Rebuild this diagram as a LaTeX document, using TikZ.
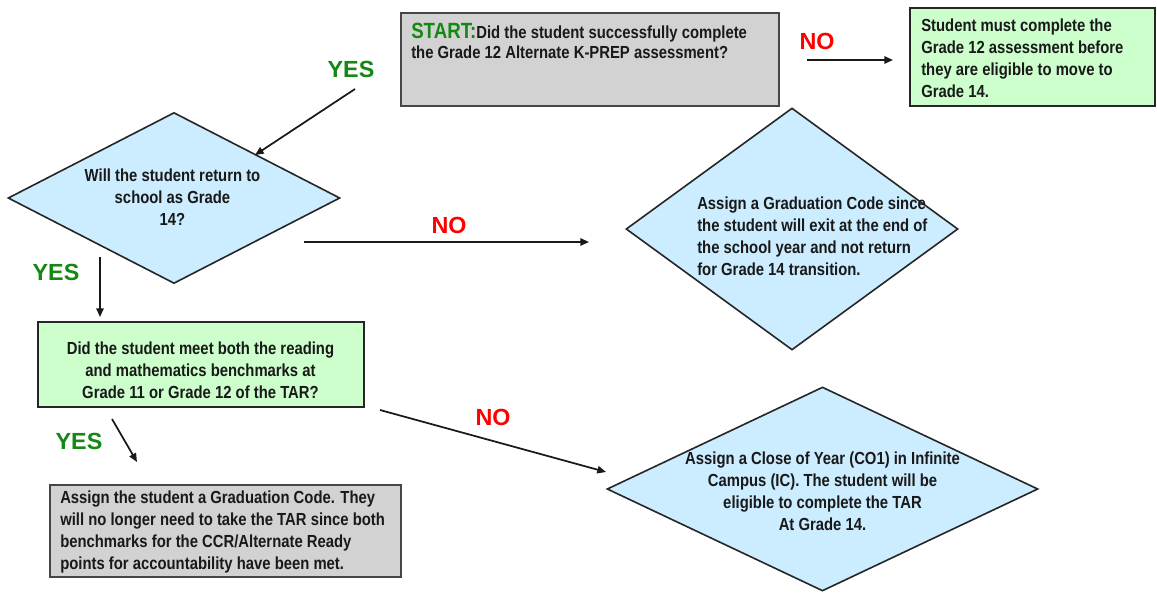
\documentclass[tikz,border=0pt]{standalone}
\usepackage{fontspec}
\setmainfont{Liberation Sans}
\newfontfamily\bnar{Liberation Sans}[FakeStretch=0.85]
\usetikzlibrary{shapes.geometric, arrows.meta}
\definecolor{diablue}{RGB}{204,236,255}
\definecolor{greenfill}{RGB}{204,255,204}
\definecolor{grayfill}{RGB}{210,210,210}
\definecolor{yesgreen}{RGB}{20,135,20}
\definecolor{nored}{RGB}{255,0,0}
\definecolor{bordergray}{RGB}{70,70,70}
\tikzset{
  dia/.style={diamond, draw=black!85, line width=1.2pt, fill=diablue, inner sep=0pt},
  greenbox/.style={rectangle, draw=black!85, line width=1.2pt, fill=greenfill, inner sep=0pt},
  graybox/.style={rectangle, draw=bordergray, line width=1.5pt, fill=grayfill, inner sep=0pt},
  txt/.style={font=\bnar\bfseries\fontsize{13.1pt}{16.5pt}\selectfont, inner sep=0pt, text=black!90},
  yeslbl/.style={font=\bfseries\fontsize{17.5pt}{20pt}\selectfont, text=yesgreen, inner sep=0pt},
  nolbl/.style={font=\bfseries\fontsize{17.5pt}{20pt}\selectfont, text=nored, inner sep=0pt},
  arr/.style={-{Triangle[length=6.5pt,width=5.5pt]}, line width=1.3pt, black!90}
}
\begin{document}
\begin{tikzpicture}[x=0.75pt, y=-0.75pt]
\fill[white] (0,0) rectangle (1157,593);
\useasboundingbox (0,0) rectangle (1157,593);

% shapes
\node[graybox, minimum width=283.5pt, minimum height=69.75pt] (start) at (590,59.5) {};
\node[greenbox, minimum width=183.75pt, minimum height=73.5pt] (must) at (1032.5,57) {};
\node[dia, minimum width=249pt, minimum height=128.25pt] (ret) at (174,198) {};
\node[dia, minimum width=249pt, minimum height=181.5pt] (grad) at (792,229) {};
\node[greenbox, minimum width=244.5pt, minimum height=63.75pt] (bench) at (201,364.5) {};
\node[graybox, minimum width=263.25pt, minimum height=69pt] (assign) at (225.5,531) {};
\node[dia, minimum width=323.25pt, minimum height=153pt] (close) at (822.5,489) {};

% texts
\node[txt, anchor=west, align=left] (startT) at (411,41)
  {{\fontsize{16.5pt}{17pt}\selectfont\color{yesgreen}START:}Did the student successfully complete\\[-1pt]the Grade 12 Alternate K-PREP assessment?};
\node[txt, anchor=west, align=left] (mustT) at (921,58.5)
  {Student must complete the\\Grade 12 assessment before\\they are eligible to move to\\Grade 14.};
\node[txt, align=center] (retT) at (172.5,197.5)
  {Will the student return to\\school as Grade\\14?};
\node[txt, anchor=west, align=left] (gradT) at (697,236.5)
  {Assign a Graduation Code since\\the student will exit at the end of\\the school year and not return\\for Grade 14 transition.};
\node[txt, align=center] (benchT) at (200.5,370)
  {Did the student meet both the reading\\and mathematics benchmarks at\\Grade 11 or Grade 12 of the TAR?};
\node[txt, anchor=west, align=left] (assignT) at (60,532)
  {Assign the student a Graduation Code. They\\will no longer need to take the TAR since both\\benchmarks for the CCR/Alternate Ready\\points for accountability have been met.};
\node[txt, align=center] (closeT) at (822.5,491.5)
  {Assign a Close of Year (CO1) in Infinite\\Campus (IC). The student will be\\eligible to complete the TAR\\At Grade 14.};

% labels
\node[yeslbl] (yes1) at (351,69) {YES};
\node[nolbl] (no1) at (817,41) {NO};
\node[nolbl] (no2) at (449,225) {NO};
\node[yeslbl] (yes2) at (56,272) {YES};
\node[yeslbl] (yes3) at (79,441) {YES};
\node[nolbl] (no3) at (493,417) {NO};

% connector ends
\coordinate (a1s) at (355,89);  \coordinate (a1e) at (255,155);
\coordinate (a2s) at (807,60);  \coordinate (a2e) at (893,60);
\coordinate (a3s) at (304,242); \coordinate (a3e) at (589,242);
\coordinate (a4s) at (100,257); \coordinate (a4e) at (100,317);
\coordinate (a5s) at (112,419); \coordinate (a5e) at (137,462);
\coordinate (a6s) at (380,410); \coordinate (a6e) at (606,472);

\draw[arr] (a1s) -- (a1e);
\draw[arr] (a2s) -- (a2e);
\draw[arr] (a3s) -- (a3e);
\draw[arr] (a4s) -- (a4e);
\draw[arr] (a5s) -- (a5e);
\draw[arr] (a6s) -- (a6e);
\end{tikzpicture}
\end{document}
